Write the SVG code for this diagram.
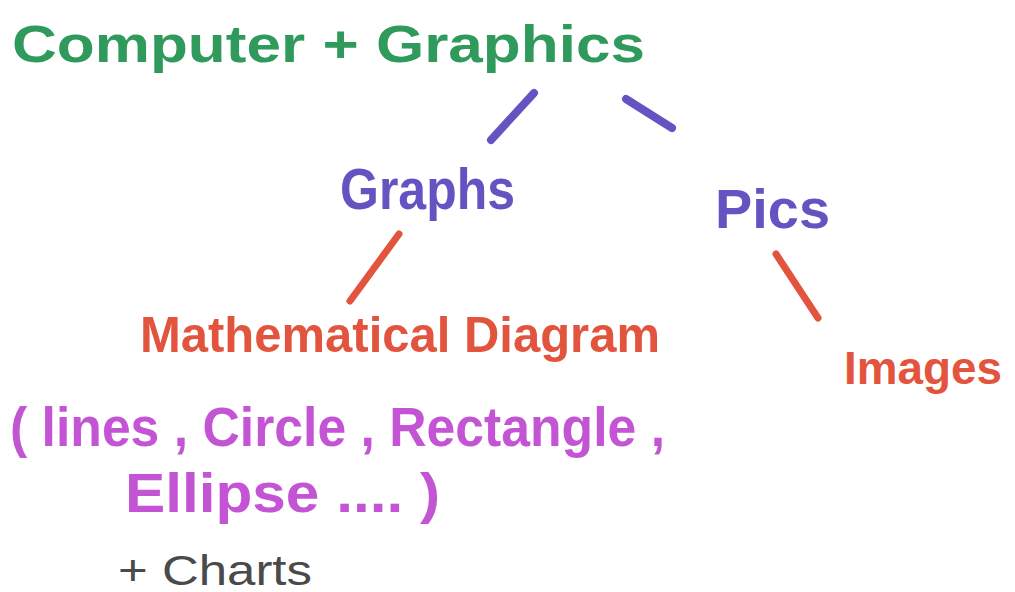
<svg xmlns="http://www.w3.org/2000/svg" width="1015" height="592" viewBox="0 0 1015 592">
<style>
text{font-family:"Liberation Sans","DejaVu Sans",sans-serif;font-weight:bold}
.green{fill:#2f9a5c}
.purple{fill:#6553c2}
.red{fill:#e2543e}
.mag{fill:#c355d4}
.gray{fill:#4a4a4a;font-weight:normal}
.cp{stroke:#6553c2;stroke-width:8;stroke-linecap:round;fill:none}
.cr{stroke:#e2543e;stroke-width:7;stroke-linecap:round;fill:none}
</style>
<rect width="1015" height="592" fill="#ffffff"/>
<g id="connectors">
<line class="cp" x1="491" y1="140" x2="534" y2="93"/>
<line class="cp" x1="626" y1="99" x2="672" y2="128"/>
<line class="cr" x1="399" y1="234" x2="350" y2="301"/>
<line class="cr" x1="776" y1="254" x2="818" y2="318"/>
</g>
<g id="root">
<text class="green" x="12" y="62" font-size="52" textLength="633" lengthAdjust="spacingAndGlyphs">Computer + Graphics</text>
</g>
<g id="graphs">
<text class="purple" x="340" y="209" font-size="58" textLength="175" lengthAdjust="spacingAndGlyphs">Graphs</text>
</g>
<g id="pics">
<text class="purple" x="715" y="228" font-size="56" textLength="115" lengthAdjust="spacingAndGlyphs">Pics</text>
</g>
<g id="math">
<text class="red" x="140" y="352" font-size="50" textLength="520" lengthAdjust="spacingAndGlyphs">Mathematical Diagram</text>
</g>
<g id="images">
<text class="red" x="844" y="384" font-size="47" textLength="158" lengthAdjust="spacingAndGlyphs">Images</text>
</g>
<g id="shapes">
<text class="mag" x="10" y="446" font-size="56" textLength="655" lengthAdjust="spacingAndGlyphs">( lines , Circle , Rectangle ,</text>
<text class="mag" x="125" y="512" font-size="56" textLength="315" lengthAdjust="spacingAndGlyphs">Ellipse .... )</text>
</g>
<g id="charts">
<text class="gray" x="118" y="585" font-size="42" textLength="194" lengthAdjust="spacingAndGlyphs">+ Charts</text>
</g>
</svg>
